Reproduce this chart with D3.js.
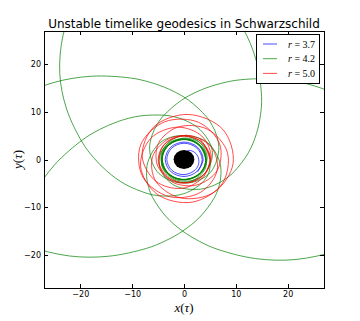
<!DOCTYPE html>
<html lang="en">
<head>
<meta charset="UTF-8">
<title>Unstable timelike geodesics in Schwarzschild</title>
<script src="https://d3js.org/d3.v7.min.js"></script>
<style>
  body { margin: 0; background: #fff; }
  .axis text { font: 8px "DejaVu Sans", sans-serif; fill: #000; }
  .axis line { stroke: #000; shape-rendering: crispEdges; }
  .axis .domain { display: none; }
</style>
</head>
<body>
<script>
// Axes limits and ticks
const xDomain = [-27, 27];
const yDomain = [-27, 27];
const xTicks = [-20, -10, 0, 10, 20];
const yTicks = [-20, -10, 0, 10, 20];

// Legend
const seriesNames = ["3.7", "4.2", "5.0"];
const seriesColors = ["#0000ff", "#008000", "#ff0000"];

// Horizon radius (2M)
const horizonRadius = 2;

// Orbits as [phi in degrees, r]
const blueOrbit = [
  [315,3.7],[0,3.69],[45,3.68],[90,3.66],[135,3.64],[180,3.62],[225,3.6],[270,3.57],
  [315,3.54],[0,3.5],[45,3.46],[90,3.42],[135,3.37],[180,3.32],[225,3.26],[270,3.18],
  [315,3.08],[345,2.95],[15,2.75],[40,2.5],[60,2.2],[70,2.0]
];

const greenOrbit = [
  [0,4.2],[45,4.2],[90,4.2],[135,4.21],[180,4.21],[225,4.22],[270,4.23],[315,4.24],[340.5,4.26],[25.5,4.3],[70.5,4.38],
  // lobe 1 out
  [120.5,4.5],[163.3,4.7],[201.5,5],[240,5.5],[264.9,6],[297.1,7],[318.1,8],[333.3,9],[345.2,10],[6.5,12.5],
  [21.3,15],[32.5,17.5],[41.6,20],[56.1,25],[68,30],[79.2,35],[86.5,38],[92.4,40],[105.5,42],
  // lobe 1 back
  [118.6,40],[124.5,38],[131.8,35],[143,30],[154.9,25],[169.4,20],[178.5,17.5],[189.7,15],[204.5,12.5],
  [225.8,10],[237.7,9],[252.9,8],[273.9,7],[306.1,6],[331,5.5],[9.5,5],[47.7,4.7],[90.5,4.5],
  [140.5,4.38],[185.5,4.3],[230.5,4.26],[275,4.23],[320,4.22],[5,4.21],[60,4.26],[105,4.3],[150,4.38],
  // lobe 2 out
  [200,4.5],[243,4.7],[281,5],[319.5,5.5],[344.4,6],[16.6,7],[37.6,8],[52.8,9],[64.7,10],[86,12.5],
  [100.8,15],[112,17.5],[121.1,20],[135.6,25],[147.5,30],[158.7,35],[166,38],[171.9,40],[185,42],
  // lobe 2 back
  [198.1,40],[204,38],[211.3,35],[222.5,30],[234.4,25],[248.9,20],[258,17.5],[269.2,15],[284,12.5],
  [305.3,10],[317.2,9],[332.4,8],[353.4,7],[25.6,6],[50.5,5.5],[89,5],[127.2,4.7],[170,4.5],
  [220,4.38],[265,4.3],[310,4.26],[355,4.23],[40,4.22],[85,4.21],[130,4.21],[175,4.22],[228,4.26],[273,4.3],[318,4.38],
  // lobe 3 out
  [8,4.5],[50.8,4.7],[89,5],[127.5,5.5],[152.4,6],[184.6,7],[205.6,8],[220.8,9],[232.7,10],[254,12.5],
  [268.8,15],[280,17.5],[289.1,20],[303.6,25],[315.5,30],[326.7,35],[334,38],[339.9,40],[353,42],
  // lobe 3 back
  [6.1,40],[12,38],[19.3,35],[30.5,30],[42.4,25],[56.9,20],[66,17.5],[77.2,15],[92,12.5],
  [113.3,10],[125.2,9],[140.4,8],[161.4,7],[193.6,6],[218.5,5.5],[257,5],[295.2,4.7],[338,4.5],
  [28,4.38],[73,4.3],[118,4.26],[163,4.23],[208,4.21],[253,4.2],[298,4.2],[343,4.21],[28,4.22],[73,4.24],[107,4.26],[152,4.3],[197,4.38],
  // lobe 4 out
  [247,4.5],[289.8,4.7],[328,5],[6.5,5.5],[31.4,6],[63.6,7],[84.6,8],[99.8,9],[111.7,10],[133,12.5],
  [147.8,15],[159,17.5],[168.1,20],[182.6,25],[194.5,30],[205.7,35],[213,38]
];

const redOrbit = [
  [0,5.0],[45,5.0],[90,4.99],[135,4.98],[180,4.97],[225,4.97],[270,4.98],[315,4.99],[0,5.0],[50,5.0],
  [100,5.0],[130,5.3],[175,6.1],[220,7.1],[265,8.1],[310,9.0],[355,9.5],[40,9.8],[85,9.5],[130,9.0],
  [175,8.1],[220,7.1],[265,6.1],[310,5.3],[340,5.0],
  [10,5.3],[55,6.0],[100,6.9],[145,7.8],[190,8.5],[235,8.95],[280,9.1],[325,8.95],[10,8.5],[55,7.8],
  [100,6.9],[145,6.0],[190,5.3],[220,5.0],
  [250,5.3],[295,5.9],[340,6.8],[25,7.6],[70,8.3],[115,8.75],[160,8.9],[205,8.75],[250,8.3],[295,7.6],
  [340,6.8],[25,5.9],[70,5.2],[100,4.95],
  [145,4.9],[190,4.85],[235,4.85],[280,4.9],[325,5.0],[10,5.1],[55,5.3]
];

const orbits = [blueOrbit, greenOrbit, redOrbit];

// Layout
const width = 360, height = 321;
const plot = {left: 44, right: 324, top: 31, bottom: 288};

const svg = d3.select("body").append("svg")
    .attr("width", width)
    .attr("height", height)
    .style("background", "#fff");

const x = d3.scaleLinear().domain(xDomain).range([plot.left, plot.right]);
const y = d3.scaleLinear().domain(yDomain).range([plot.bottom, plot.top]);

svg.append("clipPath").attr("id", "clip")
  .append("rect")
    .attr("x", plot.left).attr("y", plot.top)
    .attr("width", plot.right - plot.left)
    .attr("height", plot.bottom - plot.top);

const rad = Math.PI / 180;
const line = d3.line()
    .x(d => x(d[1] * Math.cos(d[0] * rad)))
    .y(d => y(d[1] * Math.sin(d[0] * rad)))
    .curve(d3.curveCatmullRom.alpha(0.5));

const g = svg.append("g").attr("clip-path", "url(#clip)");

g.selectAll("path.orbit")
  .data(orbits)
  .enter().append("path")
    .attr("class", "orbit")
    .attr("d", line)
    .attr("fill", "none")
    .attr("stroke", (d, i) => seriesColors[i])
    .attr("stroke-opacity", 0.7)
    .attr("stroke-width", 1);

// black hole
g.append("ellipse")
    .attr("cx", x(0)).attr("cy", y(0))
    .attr("rx", x(horizonRadius) - x(0))
    .attr("ry", y(0) - y(horizonRadius))
    .attr("fill", "#000");

// axes, ticks pointing inward on all sides
svg.append("g").attr("class", "axis")
    .attr("transform", `translate(0,${plot.bottom})`)
    .call(d3.axisBottom(x).tickValues(xTicks).tickSizeInner(-4).tickSizeOuter(0).tickPadding(3.5));
svg.append("g").attr("class", "axis")
    .attr("transform", `translate(0,${plot.top})`)
    .call(d3.axisTop(x).tickValues(xTicks).tickSizeInner(-4).tickSizeOuter(0).tickFormat(""));
svg.append("g").attr("class", "axis")
    .attr("transform", `translate(${plot.left},0)`)
    .call(d3.axisLeft(y).tickValues(yTicks).tickSizeInner(-4).tickSizeOuter(0).tickPadding(3));
svg.append("g").attr("class", "axis")
    .attr("transform", `translate(${plot.right},0)`)
    .call(d3.axisRight(y).tickValues(yTicks).tickSizeInner(-4).tickSizeOuter(0).tickFormat(""));

svg.append("rect")
    .attr("x", plot.left).attr("y", plot.top)
    .attr("width", plot.right - plot.left)
    .attr("height", plot.bottom - plot.top)
    .attr("fill", "none")
    .attr("stroke", "#000")
    .attr("shape-rendering", "crispEdges");

// title
svg.append("text")
    .attr("x", (plot.left + plot.right) / 2)
    .attr("y", 28)
    .attr("text-anchor", "middle")
    .style("font", "12px 'DejaVu Sans', sans-serif")
    .text("Unstable timelike geodesics in Schwarzschild");

// axis labels
function mathLabel(sel, v) {
  sel.style("font-family", "'Liberation Serif', serif").style("font-size", "13px");
  sel.append("tspan").style("font-style", "italic").text(v);
  sel.append("tspan").text("(");
  sel.append("tspan").style("font-style", "italic").text("τ");
  sel.append("tspan").text(")");
}

svg.append("text")
    .attr("x", (plot.left + plot.right) / 2)
    .attr("y", 312)
    .attr("text-anchor", "middle")
    .call(mathLabel, "x");

svg.append("text")
    .attr("transform", `translate(22,${(plot.top + plot.bottom) / 2}) rotate(-90)`)
    .attr("text-anchor", "middle")
    .call(mathLabel, "y");

// legend
const legend = svg.append("g");
legend.append("rect")
    .attr("x", 256).attr("y", 34)
    .attr("width", 63).attr("height", 49)
    .attr("fill", "#fff")
    .attr("stroke", "#000")
    .attr("shape-rendering", "crispEdges");

const item = legend.selectAll("g.item")
  .data(seriesNames)
  .enter().append("g")
    .attr("class", "item")
    .attr("transform", (d, i) => `translate(0,${44 + i * 14.7})`);

item.append("line")
    .attr("x1", 263).attr("x2", 277)
    .attr("stroke", (d, i) => seriesColors[i])
    .attr("stroke-opacity", 0.7);

const label = item.append("text")
    .attr("x", 288).attr("y", 3.5)
    .style("font-family", "'Liberation Serif', serif")
    .style("font-size", "10px");
label.append("tspan").style("font-style", "italic").text("r");
label.append("tspan").text(d => " = " + d);
</script>
</body>
</html>
